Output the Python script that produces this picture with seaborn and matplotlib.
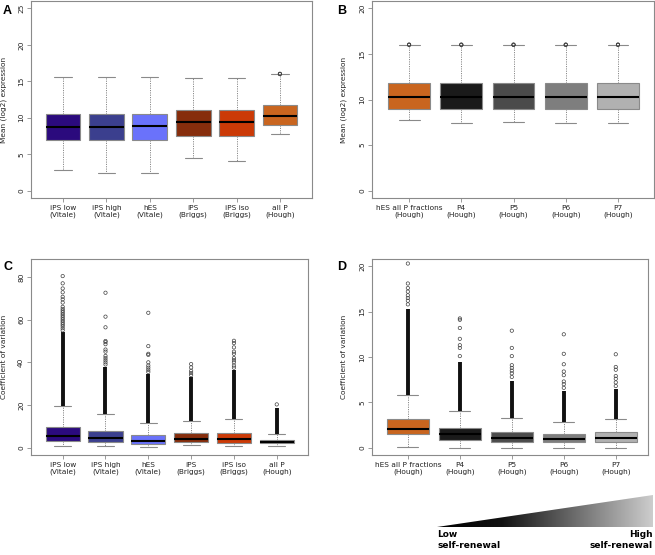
import numpy as np
import pandas as pd
import seaborn as sns
import matplotlib
matplotlib.use("Agg")
import matplotlib.pyplot as plt
from matplotlib.colors import LinearSegmentedColormap
from matplotlib.patches import Polygon

# ---- panel A: mean expression, all datasets
a_groups = ["iPS low\n(Vitale)", "iPS high\n(Vitale)", "hES\n(Vitale)",
            "iPS\n(Briggs)", "iPS iso\n(Briggs)", "all P\n(Hough)"]
a_colors = ["#2b0a7d", "#3b3f8e", "#6a72fb", "#862d0c", "#cb3a07", "#c9651f"]
a_lo = [2.8, 2.45, 2.45, 4.55, 4.1, 7.78]
a_q1 = [6.9, 6.9, 6.9, 7.55, 7.55, 8.96]
a_med = [8.75, 8.75, 8.8, 9.37, 9.37, 10.23]
a_q3 = [10.5, 10.5, 10.5, 11.05, 11.0, 11.7]
a_hi = [15.65, 15.65, 15.65, 15.4, 15.4, 15.95]
a_out = [[], [], [], [], [], [15.98, 16.0, 16.03]]

# ---- panel B: mean expression, Hough fractions
b_groups = ["hES all P fractions\n(Hough)", "P4\n(Hough)", "P5\n(Hough)",
            "P6\n(Hough)", "P7\n(Hough)"]
b_colors = ["#c9651f", "#1a1a1a", "#4b4b4b", "#7e7e7e", "#b1b1b1"]
b_lo = [7.72, 7.39, 7.5, 7.39, 7.39]
b_q1 = [8.96, 8.96, 8.96, 8.96, 8.96]
b_med = [10.27, 10.3, 10.27, 10.3, 10.27]
b_q3 = [11.78, 11.78, 11.78, 11.78, 11.78]
b_hi = [15.95, 15.95, 15.95, 15.95, 15.95]
b_out = [[15.98, 16.0, 16.03]] * 5

# ---- panel C: coefficient of variation, all datasets
c_lo = [0.8, 0.8, 0.5, 1.3, 0.8, 0.8]
c_q1 = [3.1, 2.8, 1.7, 2.5, 2.3, 2.0]
c_med = [5.4, 4.4, 3.0, 3.9, 3.9, 2.7]
c_q3 = [9.5, 8.0, 5.9, 6.7, 6.7, 3.6]
c_hi = [19.5, 15.9, 11.4, 12.7, 13.3, 6.3]
c_dense = [54.0, 38.0, 34.5, 33.0, 36.5, 18.4]
c_out = [
    [55, 56, 57, 57.8, 58.6, 59.4, 60.2, 61, 61.8, 62.6, 63.4, 64.2, 65,
     66, 68, 69.5, 70.7, 72.8, 74.6, 77, 80.4],
    [39, 40, 41, 42, 43, 45, 46, 48.5, 49.5, 50, 56.4, 61.4, 72.6],
    [35.5, 36.5, 37.5, 38.5, 40, 43.5, 44, 47.6, 63.2],
    [34, 35, 36, 37.6, 39.2],
    [37.5, 38.5, 40, 41, 42, 44, 45, 47, 49, 50.1],
    [20.3],
]

# ---- panel D: coefficient of variation, Hough fractions
d_lo = [0.13, 0.02, 0.02, 0.02, 0.02]
d_q1 = [1.48, 0.86, 0.68, 0.6, 0.68]
d_med = [2.12, 1.5, 1.12, 1.0, 1.12]
d_q3 = [3.16, 2.2, 1.7, 1.52, 1.7]
d_hi = [5.8, 4.1, 3.24, 2.88, 3.16]
d_dense = [15.3, 9.5, 7.3, 6.2, 6.5]
d_out = [
    [15.8, 16.2, 16.5, 16.8, 17.2, 17.6, 18.1, 20.3],
    [10.1, 11.0, 11.3, 12.0, 13.2, 14.1, 14.25],
    [7.8, 8.2, 8.5, 8.8, 9.1, 10.1, 11.0, 12.9],
    [6.6, 7.0, 7.3, 8.0, 8.4, 9.2, 10.35, 12.5],
    [6.8, 7.2, 7.6, 7.9, 8.6, 8.9, 10.3],
]

GREY = "#8a8a8a"
TXT = "#222222"

sns.set_theme(style="white")
plt.rcParams["font.family"] = ["DejaVu Sans"]

W, H = 655, 555
fig = plt.figure(figsize=(W / 100, H / 100), dpi=100)


def px_axes(left, top, width, height):
    return fig.add_axes([left / W, 1 - (top + height) / H, width / W, height / H])


def draw_panel(ax, groups, colors, lo, q1, med, q3, hi, outs, dense, ylim, xlim,
               yticks, ylabel, label_x):
    # five-number summaries as data, whiskers reach min/max
    stats = pd.DataFrame({
        "group": np.repeat(groups, 5),
        "value": np.column_stack([lo, q1, med, q3, hi]).ravel(),
    })
    sns.boxplot(data=stats, x="group", y="value", hue="group", order=groups,
                hue_order=groups, palette=colors, whis=(0, 100), width=0.8,
                saturation=1, linewidth=0.8, linecolor=GREY, fliersize=0,
                medianprops=dict(color="black", linewidth=1.5),
                whiskerprops=dict(linestyle=(0, (1.2, 1.2)), linewidth=0.7),
                capprops=dict(linewidth=0.8),
                legend=False, ax=ax)
    if dense is not None:
        for i, (a, b) in enumerate(zip(hi, dense)):
            ax.vlines(i, a, b, color="#111111", linewidth=2.8, zorder=3)
    pts = pd.DataFrame({
        "group": [g for g, o in zip(groups, outs) for _ in o],
        "value": [v for o in outs for v in o],
    })
    sns.stripplot(data=pts, x="group", y="value", order=groups, jitter=False,
                  color="0.3", facecolor="none", edgecolor="0.25",
                  linewidth=0.5, size=2.4, ax=ax, zorder=4)
    ax.set_xlim(*xlim)
    ax.set_ylim(*ylim)
    ax.set_yticks(yticks)
    ax.set_yticklabels([str(t) for t in yticks])
    ax.set_xlabel("")
    ax.set_ylabel(ylabel, fontsize=5.3, color=TXT)
    ax.yaxis.set_label_coords(label_x, 0.5)
    ax.tick_params(axis="both", direction="out", length=3, width=0.6,
                   color=GREY, labelsize=5.3, labelcolor=TXT, pad=2,
                   bottom=True, left=True)
    ax.tick_params(axis="y", labelrotation=90)
    for lbl in ax.get_yticklabels():
        lbl.set_va("center")
    for s in ax.spines.values():
        s.set_color(GREY)
        s.set_linewidth(0.8)


ax_a = px_axes(31, 1, 281, 197)
draw_panel(ax_a, a_groups, a_colors, a_lo, a_q1, a_med, a_q3, a_hi, a_out, None,
           (-1, 26), (-0.74, 5.74), [0, 5, 10, 15, 20, 25],
           "Mean (log2) expression", -24 / 281)

ax_b = px_axes(372, 1, 282, 197)
draw_panel(ax_b, b_groups, b_colors, b_lo, b_q1, b_med, b_q3, b_hi, b_out, None,
           (-0.8, 20.8), (-0.71, 4.69), [0, 5, 10, 15, 20],
           "Mean (log2) expression", -25 / 282)

ax_c = px_axes(31, 259, 277, 196)
draw_panel(ax_c, a_groups, a_colors, c_lo, c_q1, c_med, c_q3, c_hi, c_out, c_dense,
           (-3.4, 88.4), (-0.74, 5.73), [0, 20, 40, 60, 80],
           "Coefficient of variation", -24 / 277)

ax_d = px_axes(372, 259, 276, 196)
draw_panel(ax_d, b_groups, b_colors, d_lo, d_q1, d_med, d_q3, d_hi, d_out, d_dense,
           (-0.8, 20.8), (-0.69, 4.62), [0, 5, 10, 15, 20],
           "Coefficient of variation", -25 / 276)

# panel letters
for letter, x, y in [("A", 3, 11), ("B", 337, 11), ("C", 3, 267), ("D", 337, 267)]:
    fig.text(x / W, 1 - y / H, letter, fontsize=9, fontweight="bold",
             family="Liberation Sans", ha="left", va="center", color="black")

# self-renewal gradient wedge
ax_g = px_axes(437, 495, 216, 32)
cmap = LinearSegmentedColormap.from_list(
    "sr", [(0, "#000000"), (0.3, "#111111"), (1, "#cdcdcd")])
img = ax_g.imshow(np.linspace(0, 1, 256).reshape(1, -1), cmap=cmap,
                  extent=(0, 1, 0, 1), aspect="auto")
tri = Polygon([(0, 0), (1, 0), (1, 1)], closed=True, transform=ax_g.transData,
              facecolor="none", edgecolor="none")
ax_g.add_patch(tri)
img.set_clip_path(tri)
ax_g.set_xlim(0, 1)
ax_g.set_ylim(0, 1)
ax_g.axis("off")

fig.text(437 / W, 1 - 530 / H, "Low\nself-renewal", fontsize=6.5,
         fontweight="bold", ha="left", va="top", color="black", linespacing=1.25)
fig.text(653 / W, 1 - 530 / H, "High\nself-renewal", fontsize=6.5,
         fontweight="bold", ha="right", va="top", color="black",
         multialignment="right", linespacing=1.25)

fig.savefig("out.png", dpi=100)
